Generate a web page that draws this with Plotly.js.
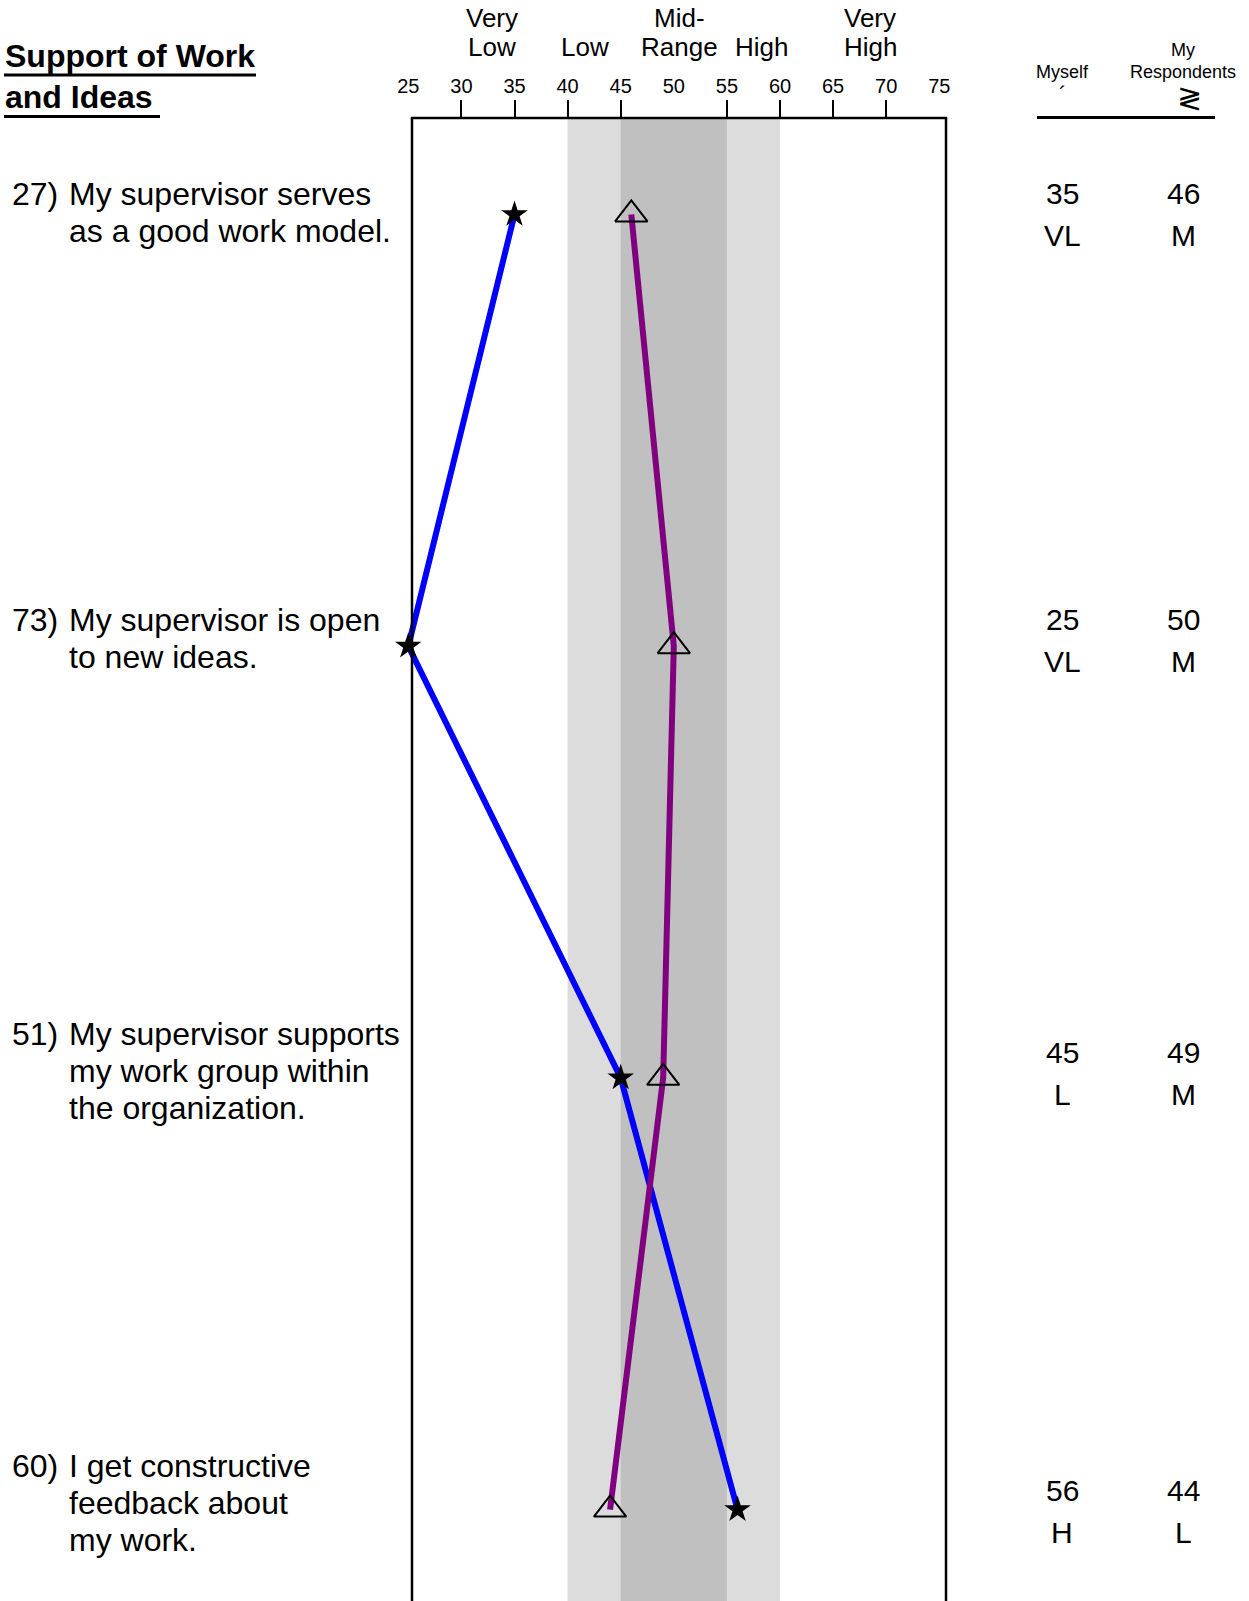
<!DOCTYPE html>
<html><head><meta charset="utf-8">
<script src="https://cdn.plot.ly/plotly-3.0.1.min.js"></script>
<style>body{margin:0;padding:0;background:#fff;} #chart{width:1249px;height:1601px;}</style>
</head><body><div id="chart"></div>
<script>
// ---------- data ----------
const itemNumbers = ["27)", "73)", "51)", "60)"];
const itemLines = [
  ["My supervisor serves", "as a good work model."],
  ["My supervisor is open", "to new ideas."],
  ["My supervisor supports", "my work group within", "the organization."],
  ["I get constructive", "feedback about", "my work."]
];
const myselfScores = [35, 25, 45, 56];
const myselfLevels = ["VL", "VL", "L", "H"];
const respondentScores = [46, 50, 49, 44];
const respondentLevels = ["M", "M", "M", "L"];
const tickValues = [25, 30, 35, 40, 45, 50, 55, 60, 65, 70, 75];
const tickMarkValues = [30, 35, 40, 45, 55, 60, 65, 70];
const rangeNames = [["Very", "Low"], ["Low"], ["Mid-", "Range"], ["High"], ["Very", "High"]];
const lightBand = [40, 60];
const darkBand = [45, 55];
const titleLines = ["Support of Work", "and Ideas"];
const colHeaders = [["Myself"], ["My", "Respondents"]];
const colGlyphs = ["\u00B4", "\u2277"];

// ---------- layout helpers ----------
const W = 1249, H = 1601;
const ML = 390, MR = 303, MT = 118, MB = 0;
const PW = W - ML - MR, PH = H - MT - MB;
const px = v => (v - ML) / PW;            // pixel x -> paper x
const py = v => 1 - (v - MT) / PH;        // pixel y -> paper y
const FONT = "Liberation Sans, Arial, sans-serif";
const rows = itemNumbers.map((_, i) => i);
const rangeNamePos = [32.9, 41.6, 50.5, 58.3, 68.5];
const FRAME_L = 412;                      // left frame edge (px)
const textShift = [-2, -8, -7, -7];       // px offsets of text blocks vs row centre (down +)
const valShift = [0.5, -5.5, -4.5, 1.5];

const annotations = [];
const shapes = [];

// bands
shapes.push({type: "rect", xref: "x", yref: "paper", x0: lightBand[0], x1: lightBand[1], y0: 0, y1: 1,
  fillcolor: "#dcdcdc", line: {width: 0}, layer: "below"});
shapes.push({type: "rect", xref: "x", yref: "paper", x0: darkBand[0], x1: darkBand[1], y0: 0, y1: 1,
  fillcolor: "#c0c0c0", line: {width: 0}, layer: "below"});
// frame
shapes.push({type: "line", xref: "paper", yref: "paper", x0: px(FRAME_L), x1: px(FRAME_L), y0: -0.01, y1: 1, line: {color: "#000", width: 2.5}});
shapes.push({type: "line", xref: "paper", yref: "paper", x0: 1, x1: 1, y0: -0.01, y1: 1, line: {color: "#000", width: 2.5}});
shapes.push({type: "line", xref: "paper", yref: "paper", x0: px(FRAME_L - 1.2), x1: 1 + 1.2 / PW, y0: 1, y1: 1, line: {color: "#000", width: 2.5}});

// title
const titleY = [56, 97];
titleLines.forEach((t, i) => {
  annotations.push({xref: "paper", yref: "paper", x: px(3), y: py(titleY[i]), xanchor: "left", yanchor: "middle",
    text: "<b>" + t + "</b>", showarrow: false, font: {family: FONT, size: 32, color: "#000"}});
});
shapes.push({type: "line", xref: "paper", yref: "paper", x0: px(4), x1: px(256), y0: py(75), y1: py(75), line: {color: "#000", width: 3}});
shapes.push({type: "line", xref: "paper", yref: "paper", x0: px(4), x1: px(160), y0: py(116.5), y1: py(116.5), line: {color: "#000", width: 3}});

// range names
rangeNames.forEach((lines, i) => {
  const n = lines.length;
  lines.forEach((t, j) => {
    const yy = n === 2 ? [17.5, 47][j] : 47;
    annotations.push({xref: "x", yref: "paper", x: rangeNamePos[i], y: py(yy), xanchor: "center", yanchor: "middle",
      text: t, showarrow: false, font: {family: FONT, size: 26, color: "#000"}});
  });
});

// column headers
const colX = [1062, 1183];
colHeaders.forEach((lines, i) => {
  const n = lines.length;
  lines.forEach((t, j) => {
    const yy = n === 2 ? [50, 72][j] : 72;
    annotations.push({xref: "paper", yref: "paper", x: px(colX[i]), y: py(yy), xanchor: "center", yanchor: "middle",
      text: t, showarrow: false, font: {family: FONT, size: 18, color: "#000"}});
  });
});
annotations.push({xref: "paper", yref: "paper", x: px(1062), y: py(94), xanchor: "center", yanchor: "middle",
  text: colGlyphs[0], showarrow: false, font: {family: FONT, size: 22, color: "#000"}});
annotations.push({xref: "paper", yref: "paper", x: px(1189), y: py(97), xanchor: "center", yanchor: "middle",
  text: colGlyphs[1], showarrow: false, font: {family: "DejaVu Sans, " + FONT, size: 30, color: "#000"}});
shapes.push({type: "line", xref: "paper", yref: "paper", x0: px(1037), x1: px(1215), y0: py(117.5), y1: py(117.5), line: {color: "#000", width: 3}});

// item texts and values
rows.forEach(i => {
  const n = itemLines[i].length;
  annotations.push({xref: "paper", yref: "y", x: px(10), y: i, xanchor: "left", yanchor: "middle",
    yshift: -textShift[i] + ((n - 1) / 2) * 37,
    text: itemNumbers[i], showarrow: false, font: {family: FONT, size: 32, color: "#000"}});
  itemLines[i].forEach((t, j) => {
    annotations.push({xref: "paper", yref: "y", x: px(67), y: i, xanchor: "left", yanchor: "middle",
      yshift: -textShift[i] - (j - (n - 1) / 2) * 37,
      text: t, showarrow: false, font: {family: FONT, size: 32, color: "#000"}});
  });
  [[myselfScores, myselfLevels], [respondentScores, respondentLevels]].forEach((pair, c) => {
    annotations.push({xref: "paper", yref: "y", x: px(colX[c]), y: i, xanchor: "center", yanchor: "middle",
      yshift: -valShift[i] + 21, text: String(pair[0][i]), showarrow: false, font: {family: FONT, size: 30, color: "#000"}});
    annotations.push({xref: "paper", yref: "y", x: px(colX[c]), y: i, xanchor: "center", yanchor: "middle",
      yshift: -valShift[i] - 21, text: pair[1][i], showarrow: false, font: {family: FONT, size: 30, color: "#000"}});
  });
});

const traces = [
  {x: myselfScores, y: rows, type: "scatter", mode: "lines", line: {color: "#0000ff", width: 6}, hoverinfo: "skip", showlegend: false},
  {x: respondentScores, y: rows, type: "scatter", mode: "lines", line: {color: "#800080", width: 6}, hoverinfo: "skip", showlegend: false},
  {x: myselfScores, y: rows, type: "scatter", mode: "markers", marker: {symbol: "star", size: 20, color: "#000"}, showlegend: false, cliponaxis: false},
  {x: respondentScores, y: rows, type: "scatter", mode: "markers", marker: {symbol: "triangle-up-open", size: 28, color: "#000", line: {width: 2, color: "#000"}}, showlegend: false, cliponaxis: false}
];

// linear scale: x_px = 673.8 + 10.62 * (v - 50)
const toVal = p => 50 + (p - 673.8) / 10.62;
const xr = [toVal(ML), toVal(W - MR)];
const layout = {
  width: W, height: H,
  margin: {l: ML, r: MR, t: MT, b: MB, pad: 0},
  paper_bgcolor: "#fff", plot_bgcolor: "rgba(0,0,0,0)",
  showlegend: false,
  xaxis: {range: xr, side: "top", showgrid: false, zeroline: false, showline: false,
    tickmode: "array", tickvals: tickMarkValues, ticktext: tickMarkValues.map(() => ""), ticks: "outside", ticklen: 17, tickwidth: 2, tickcolor: "#000",
    showticklabels: false, fixedrange: true},
  xaxis2: {range: xr, overlaying: "x", side: "top", showgrid: false, zeroline: false, showline: false,
    tickmode: "array", tickvals: tickValues, ticktext: tickValues.map(String), ticks: "outside", ticklen: 16, tickcolor: "rgba(0,0,0,0)",
    tickfont: {family: FONT, size: 20, color: "#000"}, fixedrange: true},
  yaxis: {range: [3.2118, -0.2235], showgrid: false, zeroline: false, showline: false,
    showticklabels: false, ticks: "", fixedrange: true},
  shapes: shapes,
  annotations: annotations
};
// invisible trace to activate xaxis2
traces.push({x: [50], y: [0], xaxis: "x2", type: "scatter", mode: "markers", marker: {opacity: 0}, hoverinfo: "skip", showlegend: false});

Plotly.newPlot("chart", traces, layout, {staticPlot: true, displayModeBar: false});
</script>
</body></html>
